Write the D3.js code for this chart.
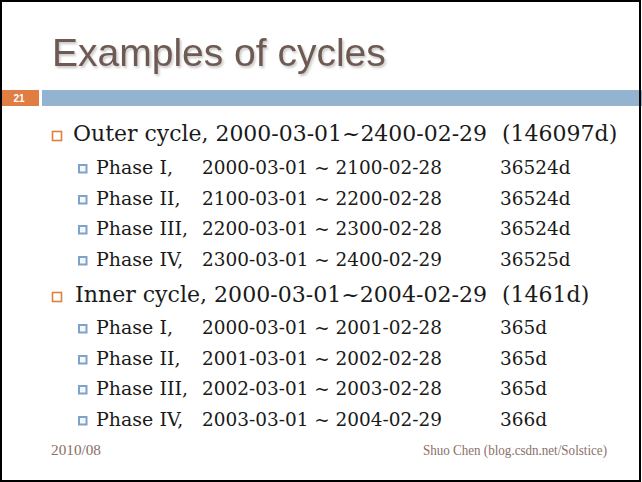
<!DOCTYPE html>
<html>
<head>
<meta charset="utf-8">
<script src="https://cdn.jsdelivr.net/npm/d3@7"></script>
<style>
  html, body { margin: 0; padding: 0; background: #fff; }
  svg { display: block; }
</style>
</head>
<body>
<svg id="slide"></svg>
<script>
// slide content
const slideTitle = "Examples of cycles";
const slideNumber = "21";
const footerLeft = "2010/08";
const footerRight = "Shuo Chen (blog.csdn.net/Solstice)";

const cycleNames = ["Outer cycle", "Inner cycle"];
const cycleStarts = ["2000-03-01", "2000-03-01"];
const cycleEnds = ["2400-02-29", "2004-02-29"];
const cycleDays = [146097, 1461];

const phaseNames = ["Phase I", "Phase II", "Phase III", "Phase IV"];
const outerStarts = ["2000-03-01", "2100-03-01", "2200-03-01", "2300-03-01"];
const outerEnds = ["2100-02-28", "2200-02-28", "2300-02-28", "2400-02-29"];
const outerDays = [36524, 36524, 36524, 36525];
const innerStarts = ["2000-03-01", "2001-03-01", "2002-03-01", "2003-03-01"];
const innerEnds = ["2001-02-28", "2002-02-28", "2003-02-28", "2004-02-29"];
const innerDays = [365, 365, 365, 366];

const W = 642, H = 482;
const svg = d3.select("#slide").attr("width", W).attr("height", H);

const serif = "'DejaVu Serif', 'Liberation Serif', serif";
const textColor = "#1a1a1a";
const footColor = "#8a7068";

// soft shadow for the title
const defs = svg.append("defs");
defs.append("filter")
  .attr("id", "titleShadow")
  .attr("x", "-5%").attr("y", "-20%")
  .attr("width", "115%").attr("height", "150%")
  .append("feDropShadow")
  .attr("dx", 1.5).attr("dy", 2)
  .attr("stdDeviation", 1)
  .attr("flood-color", "#9a9a9a")
  .attr("flood-opacity", 0.55);

svg.append("text")
  .attr("x", 52).attr("y", 66)
  .attr("font-family", "'Liberation Sans', Arial, sans-serif")
  .attr("font-size", 39)
  .attr("fill", "#6e5a52")
  .attr("filter", "url(#titleShadow)")
  .text(slideTitle);

// number tab + blue band
svg.append("rect").attr("x", 0).attr("y", 90).attr("width", 39).attr("height", 16).attr("fill", "#df7d43");
svg.append("text")
  .attr("x", 19).attr("y", 102)
  .attr("text-anchor", "middle")
  .attr("font-family", "'Liberation Sans', Arial, sans-serif")
  .attr("font-weight", "bold")
  .attr("font-size", 10)
  .attr("fill", "#fff")
  .text(slideNumber);
svg.append("rect").attr("x", 42).attr("y", 90).attr("width", W - 42).attr("height", 16).attr("fill", "#93b3d0");

// row layout: each cycle heading then its four phases
const cycles = [
  { i: 0, x: 73, w: 414, y: 141, starts: outerStarts, ends: outerEnds, days: outerDays, rowY: [174, 205, 235, 266] },
  { i: 1, x: 75, w: 412, y: 302, starts: innerStarts, ends: innerEnds, days: innerDays, rowY: [334, 365, 395, 426] }
];

const body = svg.append("g");

cycles.forEach((c) => {
  const g = body.append("g");
  // level-1 bullet
  g.append("rect")
    .attr("x", 52.5).attr("y", c.y - 9.5)
    .attr("width", 9).attr("height", 9)
    .attr("fill", "none")
    .attr("stroke", "#e0803f")
    .attr("stroke-width", 1.6);
  g.append("text")
    .attr("x", c.x).attr("y", c.y)
    .attr("font-family", serif)
    .attr("font-size", 22)
    .attr("fill", textColor)
    .attr("textLength", c.w)
    .attr("lengthAdjust", "spacingAndGlyphs")
    .text(`${cycleNames[c.i]}, ${cycleStarts[c.i]}~${cycleEnds[c.i]}`);
  g.append("text")
    .attr("x", 502).attr("y", c.y)
    .attr("font-family", serif)
    .attr("font-size", 22)
    .attr("fill", textColor)
    .text(`(${cycleDays[c.i]}d)`);

  // level-2 phase rows
  const rows = g.selectAll("g.row")
    .data(phaseNames.map((name, k) => ({
      name, start: c.starts[k], end: c.ends[k], days: c.days[k], y: c.rowY[k]
    })))
    .join("g")
    .attr("class", "row")
    .attr("transform", (d) => `translate(0,${d.y})`);

  rows.append("rect")
    .attr("x", 79).attr("y", -9)
    .attr("width", 7.5).attr("height", 7.5)
    .attr("fill", "#f4f8fc")
    .attr("stroke", "#7ea3c8")
    .attr("stroke-width", 2);

  rows.append("text")
    .attr("x", 96)
    .attr("font-family", serif)
    .attr("font-size", 19)
    .attr("fill", textColor)
    .text((d) => `${d.name},`);

  rows.append("text")
    .attr("x", 202)
    .attr("font-family", serif)
    .attr("font-size", 19)
    .attr("fill", textColor)
    .attr("textLength", 240)
    .attr("lengthAdjust", "spacingAndGlyphs")
    .text((d) => `${d.start} ~ ${d.end}`);

  rows.append("text")
    .attr("x", 500)
    .attr("font-family", serif)
    .attr("font-size", 18.5)
    .attr("fill", textColor)
    .text((d) => `${d.days}d`);
});

// footer
svg.append("text")
  .attr("x", 51).attr("y", 455)
  .attr("font-family", "'Liberation Serif', serif")
  .attr("font-size", 14)
  .attr("fill", footColor)
  .attr("textLength", 50)
  .attr("lengthAdjust", "spacingAndGlyphs")
  .text(footerLeft);
svg.append("text")
  .attr("x", 423).attr("y", 455)
  .attr("font-family", "'Liberation Serif', serif")
  .attr("font-size", 14)
  .attr("fill", footColor)
  .attr("textLength", 184)
  .attr("lengthAdjust", "spacingAndGlyphs")
  .text(footerRight);

// slide frame
svg.append("rect")
  .attr("x", 1).attr("y", 1)
  .attr("width", 639).attr("height", 480)
  .attr("fill", "none")
  .attr("stroke", "#000")
  .attr("stroke-width", 2);
</script>
</body>
</html>
